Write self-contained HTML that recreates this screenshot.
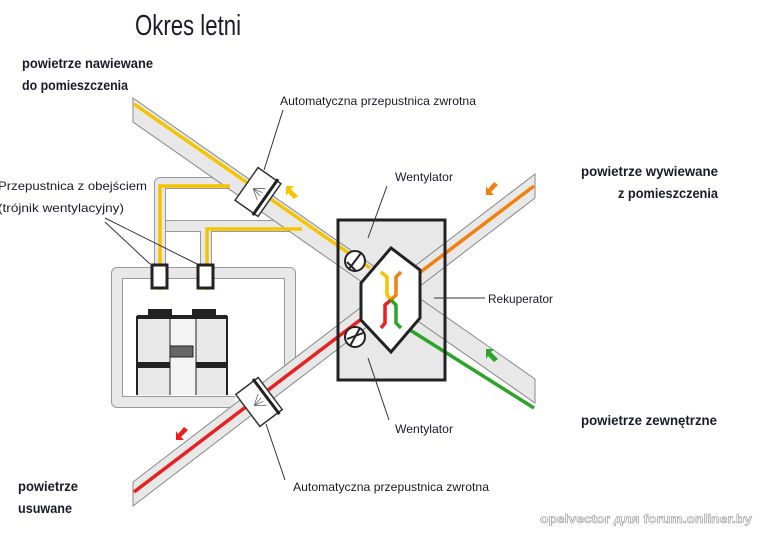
<!DOCTYPE html>
<html><head><meta charset="utf-8"><style>
html,body{margin:0;padding:0;background:#fff;}
svg{display:block;}
.n{font-family:"Liberation Sans",sans-serif;font-size:12px;fill:#1a1a2a;}
.b{font-family:"Liberation Sans",sans-serif;font-size:14px;font-weight:bold;fill:#1a1a2a;}
</style></head><body>
<svg width="774" height="542" viewBox="0 0 774 542" xmlns="http://www.w3.org/2000/svg">
<rect width="774" height="542" fill="#fff"/>
<text x="135" y="35" textLength="106" lengthAdjust="spacingAndGlyphs" style="font-family:'Liberation Sans',sans-serif;font-size:29px;fill:#1a1a2a">Okres letni</text>
<text class="b" x="22" y="68" textLength="131" lengthAdjust="spacingAndGlyphs">powietrze nawiewane</text>
<text class="b" x="22" y="90" textLength="106" lengthAdjust="spacingAndGlyphs">do pomieszczenia</text>
<text class="b" x="581" y="176" textLength="137" lengthAdjust="spacingAndGlyphs">powietrze wywiewane</text>
<text class="b" x="618" y="198" textLength="100" lengthAdjust="spacingAndGlyphs">z pomieszczenia</text>
<text class="b" x="581" y="425" textLength="136" lengthAdjust="spacingAndGlyphs">powietrze zewnętrzne</text>
<text class="b" x="18" y="491" textLength="60" lengthAdjust="spacingAndGlyphs">powietrze</text>
<text class="b" x="18" y="513" textLength="54" lengthAdjust="spacingAndGlyphs">usuwane</text>
<text class="n" x="280" y="105" textLength="196" lengthAdjust="spacingAndGlyphs">Automatyczna przepustnica zwrotna</text>
<text class="n" x="395" y="181" textLength="58" lengthAdjust="spacingAndGlyphs">Wentylator</text>
<text class="n" x="488" y="303" textLength="65" lengthAdjust="spacingAndGlyphs">Rekuperator</text>
<text class="n" x="395" y="433" textLength="58" lengthAdjust="spacingAndGlyphs">Wentylator</text>
<text class="n" x="293" y="491" textLength="196" lengthAdjust="spacingAndGlyphs">Automatyczna przepustnica zwrotna</text>
<text class="n" x="-2" y="190" textLength="149" lengthAdjust="spacingAndGlyphs">Przepustnica z obejściem</text>
<text class="n" x="-2" y="212" textLength="126" lengthAdjust="spacingAndGlyphs">(trójnik wentylacyjny)</text>

<!-- outer loop duct -->
<g fill="none" stroke-linejoin="round">
<path d="M235,402 L117,402 L117,273 L290,273 L290,372" stroke="#999" stroke-width="12"/>
<path d="M235,402 L117,402 L117,273 L290,273 L290,372" stroke="#e8e8e8" stroke-width="10"/>
<path d="M160,268 L160,226 L305,226" stroke="#999" stroke-width="12"/>
<path d="M206,268 L206,226" stroke="#999" stroke-width="12"/>
<path d="M160,268 L160,226 L305,226" stroke="#e8e8e8" stroke-width="10"/>
<path d="M206,268 L206,226" stroke="#e8e8e8" stroke-width="10"/>
<path d="M160,268 L160,183 L230,183" stroke="#999" stroke-width="12"/>
<path d="M160,268 L160,183 L230,183" stroke="#e8e8e8" stroke-width="10"/>
</g>
<!-- unit box -->
<rect x="338" y="220" width="107" height="160" fill="#e8e8e8" stroke="#222" stroke-width="3"/>
<!-- main ducts -->
<polygon points="133,98 535,379 535,403 133,122" fill="#e8e8e8" stroke="#888" stroke-width="1"/>
<polygon points="133,482 535,174 535,198 133,506" fill="#e8e8e8" stroke="#888" stroke-width="1"/>
<rect x="339.5" y="221.5" width="104" height="157" fill="none" stroke="#222" stroke-width="0"/>
<!-- coloured flows -->
<g fill="none" stroke-width="3.5">
<path d="M160,290 L160,186 L230,186" stroke="#f5c400"/>
<path d="M207,290 L207,229 L302,229" stroke="#f5c400"/>
<line x1="134" y1="104" x2="370" y2="268" stroke="#f5c400"/>
<line x1="134" y1="492" x2="368" y2="314" stroke="#e82020"/>
<line x1="410" y1="280" x2="534" y2="186" stroke="#f08010"/>
<line x1="410" y1="330" x2="534" y2="408" stroke="#2aa52a"/>
</g>
<!-- unit frame redraw edges -->
<rect x="338" y="220" width="107" height="160" fill="none" stroke="#222" stroke-width="3"/>
<polygon points="391,248 420,270 420,318 391,352 361,320 361,283" fill="#fff" stroke="#222" stroke-width="3"/>
<g fill="none" stroke-width="3.5" stroke-linejoin="round">
<path d="M381,272 L387,277 L387,295 L391,300" stroke="#f5c400"/>
<path d="M401,272 L396,277 L396,295 L391,300" stroke="#f08010"/>
<path d="M381,328 L385,323 L385,305 L391,300" stroke="#e82020"/>
<path d="M401,328 L396,323 L396,305 L391,300" stroke="#2aa52a"/>
</g>
<g fill="#fff" stroke="#222" stroke-width="2">
<circle cx="355" cy="261" r="10"/><line x1="349" y1="269" x2="361" y2="253"/><line x1="347" y1="262" x2="356" y2="271"/>
<circle cx="355" cy="337" r="10"/><line x1="347" y1="339" x2="363" y2="333"/><line x1="350" y1="346" x2="360" y2="328"/>
</g>
<!-- dampers -->
<g transform="translate(258,192) rotate(35)">
<rect x="-14" y="-20" width="28" height="40" fill="#fff" stroke="#333" stroke-width="1.5"/>
<line x1="9" y1="-22" x2="9" y2="22" stroke="#222" stroke-width="3"/>
<path d="M-6,0 L4,-7 M-6,0 L4,-2 M-6,0 L4,2 M-6,0 L4,7" stroke="#666" stroke-width="0.8"/>
</g>
<g transform="translate(259,402) rotate(-37)">
<rect x="-14" y="-20" width="28" height="40" fill="#fff" stroke="#333" stroke-width="1.5"/>
<line x1="9" y1="-22" x2="9" y2="22" stroke="#222" stroke-width="3"/>
<path d="M-6,0 L4,-7 M-6,0 L4,-2 M-6,0 L4,2 M-6,0 L4,7" stroke="#666" stroke-width="0.8"/>
</g>
<!-- damper boxes -->
<rect x="152" y="265" width="15" height="23" fill="#fff" stroke="#222" stroke-width="3"/>
<rect x="198" y="265" width="15" height="23" fill="#fff" stroke="#222" stroke-width="3"/>
<!-- machine -->
<rect x="137" y="316" width="90" height="79" fill="#e8e8e8"/>
<rect x="170" y="316" width="26" height="79" fill="#f4f4f4"/>
<rect x="148" y="309" width="24" height="8" fill="#222"/>
<rect x="192" y="309" width="24" height="8" fill="#222"/>
<rect x="137" y="315" width="90" height="4" fill="#222"/>
<rect x="137" y="362" width="33" height="6" fill="#222"/>
<rect x="196" y="362" width="31" height="6" fill="#222"/>
<line x1="137" y1="316" x2="137" y2="395" stroke="#222" stroke-width="2"/>
<line x1="227" y1="316" x2="227" y2="395" stroke="#222" stroke-width="2"/>
<line x1="170" y1="316" x2="170" y2="395" stroke="#222" stroke-width="1"/>
<line x1="196" y1="316" x2="196" y2="395" stroke="#222" stroke-width="1"/>
<rect x="170" y="346" width="23" height="11" fill="#666" stroke="#222" stroke-width="1"/>
<!-- leaders -->
<g stroke="#333" stroke-width="1">
<line x1="105" y1="222" x2="150" y2="264"/>
<line x1="105" y1="218" x2="197" y2="264"/>
<line x1="283" y1="110" x2="264" y2="170"/>
<line x1="387" y1="186" x2="368" y2="238"/>
<line x1="485" y1="298" x2="434" y2="298"/>
<line x1="368" y1="358" x2="389" y2="420"/>
<line x1="266" y1="424" x2="285" y2="480"/>
</g>
<!-- arrows -->
<polygon points="286,186 294,186 291,189 298,196 294,199 288,193 286,196" fill="#f5c400"/>
<polygon points="486,195 494,195 491,192 498,185 494,182 488,189 486,186" fill="#f08010"/>
<polygon points="486,349 494,349 491,352 498,359 494,362 488,356 486,359" fill="#2aa52a"/>
<polygon points="176,440 184,440 181,437 188,430 184,427 178,434 176,431" fill="#e82020"/>
<text x="540" y="523" textLength="212" lengthAdjust="spacingAndGlyphs" style="font-family:'Liberation Sans',sans-serif;font-size:12px;font-weight:bold;fill:#fff;stroke:#999;stroke-width:0.6">opelvector для forum.onliner.by</text>
</svg>
</body></html>
